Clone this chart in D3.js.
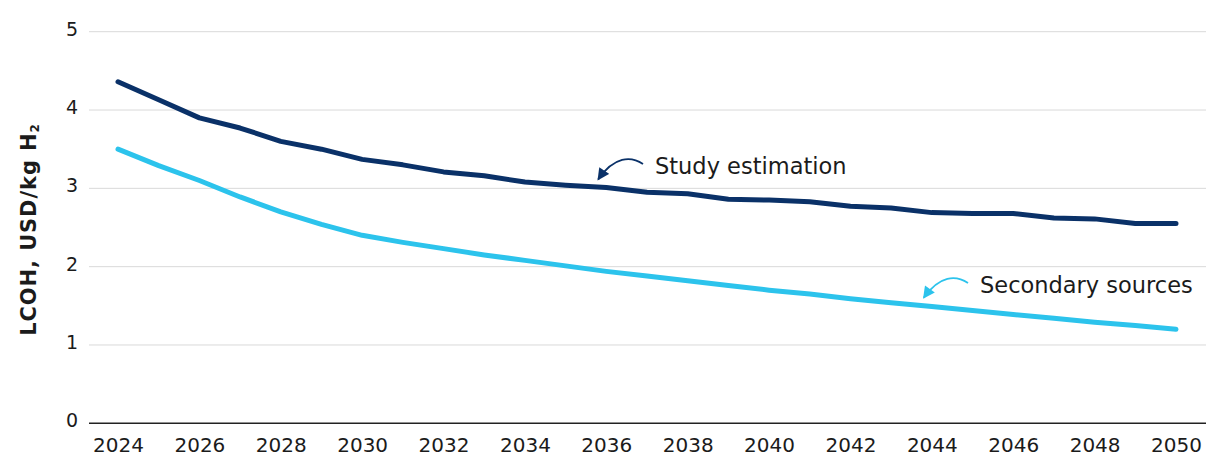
<!DOCTYPE html>
<html>
<head>
<meta charset="utf-8">
<script src="https://cdn.jsdelivr.net/npm/d3@7"></script>
<style>
  html, body { margin: 0; padding: 0; background: #fff; }
  svg { display: block; font-family: "DejaVu Sans", "Noto Sans", sans-serif; }
</style>
</head>
<body>
<svg id="chart" width="1208" height="459"></svg>
<script>
// Levelised cost of hydrogen, USD/kg H2
const years = d3.range(2024, 2051);
const studyEstimation = [4.36, 4.13, 3.90, 3.77, 3.60, 3.50, 3.37, 3.30, 3.21, 3.16, 3.08, 3.04, 3.01,
  2.95, 2.93, 2.86, 2.85, 2.83, 2.77, 2.75, 2.69, 2.68, 2.68, 2.62, 2.61, 2.55, 2.55];
const secondarySources = [3.50, 3.29, 3.10, 2.89, 2.70, 2.54, 2.40, 2.31, 2.23, 2.15, 2.08, 2.01, 1.94,
  1.88, 1.82, 1.76, 1.70, 1.65, 1.59, 1.54, 1.49, 1.44, 1.39, 1.34, 1.29, 1.25, 1.20];
const yTicks = [0, 1, 2, 3, 4, 5];
const xTicks = years.filter(y => y % 2 === 0);

const svg = d3.select("#chart");
const plotLeft = 89, plotRight = 1206;
const x = d3.scaleLinear().domain([2024, 2050]).range([118, 1176]);
const y = d3.scaleLinear().domain([0, 5]).range([423.3, 31.7]);

const textColor = "#1b1b1b";
const navy = "#0a3168";
const cyan = "#2cc3ec";
const font = "'DejaVu Sans', 'Noto Sans', sans-serif";

// horizontal gridlines
svg.append("g")
  .selectAll("line")
  .data(yTicks.filter(t => t > 0))
  .join("line")
  .attr("x1", plotLeft).attr("x2", plotRight)
  .attr("y1", d => y(d)).attr("y2", d => y(d))
  .attr("stroke", "#d9d9d9").attr("stroke-width", 1);

// baseline
svg.append("line")
  .attr("x1", plotLeft).attr("x2", plotRight)
  .attr("y1", y(0)).attr("y2", y(0))
  .attr("stroke", "#222").attr("stroke-width", 1.4);

// y axis labels
const yAxis = d3.axisLeft(y).tickValues(yTicks).tickFormat(d3.format("d")).tickSize(0).tickPadding(0);
svg.append("g")
  .attr("transform", `translate(78,0)`)
  .call(yAxis)
  .call(g => g.select(".domain").remove())
  .call(g => g.selectAll("text")
    .attr("fill", textColor)
    .style("font-size", "19px")
    .style("font-family", font)
    .attr("dy", "0.18em"));

// x axis labels
const xAxis = d3.axisBottom(x).tickValues(xTicks).tickFormat(d3.format("d")).tickSize(0).tickPadding(0);
svg.append("g")
  .attr("transform", `translate(0,437)`)
  .call(xAxis)
  .call(g => g.select(".domain").remove())
  .call(g => g.selectAll("text")
    .attr("fill", textColor)
    .style("font-size", "20px")
    .style("font-family", font)
    .attr("dy", "0.75em"));

// y axis title
const yTitle = svg.append("text")
  .attr("transform", `translate(36,${(y(0) + y(5)) / 2 + 2}) rotate(-90)`)
  .attr("text-anchor", "middle")
  .attr("fill", textColor)
  .style("font-size", "21px")
  .style("font-weight", "700")
  .style("letter-spacing", "0.9px");
yTitle.append("tspan").text("LCOH, USD/kg H");
yTitle.append("tspan").text("2").style("font-size", "12px").attr("dy", "3");

// series lines
const line = d3.line()
  .x((d, i) => x(years[i]))
  .y(d => y(d));

svg.append("path")
  .datum(secondarySources)
  .attr("d", line)
  .attr("fill", "none")
  .attr("stroke", cyan)
  .attr("stroke-width", 5)
  .attr("stroke-linecap", "round")
  .attr("stroke-linejoin", "round");

svg.append("path")
  .datum(studyEstimation)
  .attr("d", line)
  .attr("fill", "none")
  .attr("stroke", navy)
  .attr("stroke-width", 5)
  .attr("stroke-linecap", "round")
  .attr("stroke-linejoin", "round");

// arrowheads
const defs = svg.append("defs");
function marker(id, color) {
  defs.append("marker")
    .attr("id", id)
    .attr("viewBox", "0 0 10 10")
    .attr("refX", 9).attr("refY", 5)
    .attr("markerWidth", 13).attr("markerHeight", 12)
    .attr("markerUnits", "userSpaceOnUse")
    .attr("orient", "auto")
    .append("path")
    .attr("d", "M0,0 L10,5 L0,10 Z")
    .attr("fill", color);
}
marker("arrowNavy", navy);
marker("arrowCyan", cyan);

// series annotations: curved arrow from the label down to the line
function annotate(label, yearAt, valueAt, tx, ty, color, markerId) {
  const hx = x(yearAt), hy = y(valueAt) - 8;
  const sx = tx - 12, sy = ty - 10;
  svg.append("path")
    .attr("d", `M${sx},${sy} C${sx - 12},${sy - 8} ${hx + 16},${sy - 8} ${hx},${hy}`)
    .attr("fill", "none")
    .attr("stroke", color)
    .attr("stroke-width", 1.8)
    .attr("marker-end", `url(#${markerId})`);
  svg.append("text")
    .attr("x", tx).attr("y", ty)
    .attr("fill", textColor)
    .style("font-size", "22.5px")
    .style("font-family", font)
    .text(label);
}
annotate("Study estimation", 2035.8, 3.01, 655, 174, navy, "arrowNavy");
annotate("Secondary sources", 2043.8, 1.50, 980, 293, cyan, "arrowCyan");
</script>
</body>
</html>
